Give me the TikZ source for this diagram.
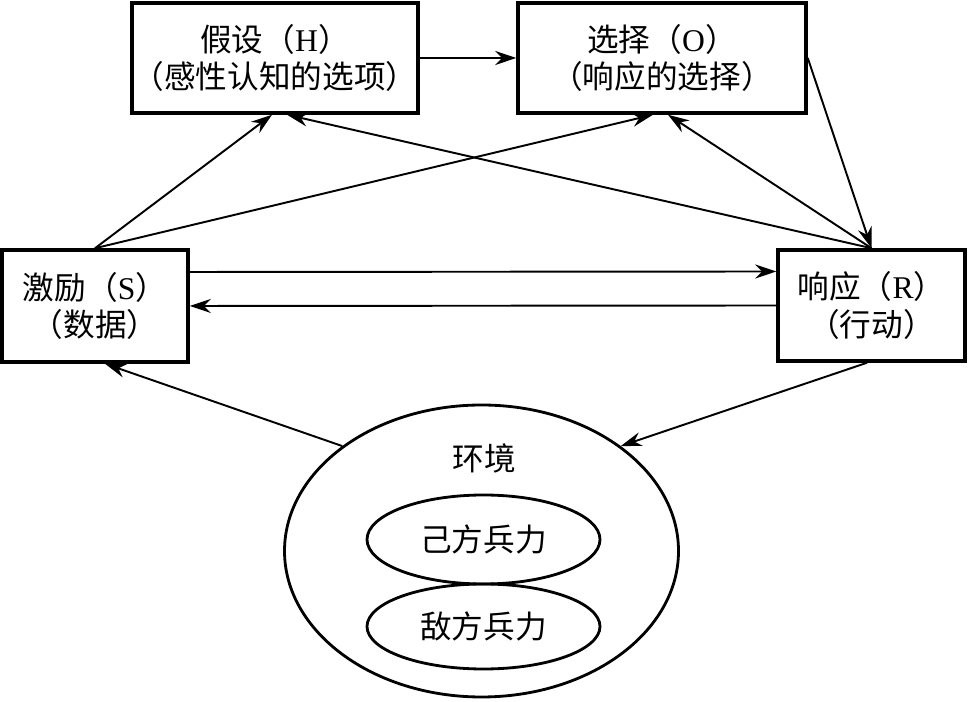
\documentclass[tikz,border=0pt]{standalone}
\usepackage{fontspec}
\usepackage{xcolor}
\usepackage{tikz}
\usetikzlibrary{arrows.meta,shapes.geometric}
\setmainfont{Liberation Serif}
\newfontfamily\cjk{Noto Sans CJK SC}

\tikzset{
  stagebox/.style={draw, line width=2pt, align=center, inner sep=0pt,
                   font=\cjk\fontsize{18}{21.5}\selectfont},
  envshape/.style={draw, ellipse, line width=1.6pt, inner sep=0pt},
  flow/.style={-{Stealth[length=12pt,width=8pt,inset=4pt]}, line width=1.1pt},
  tag/.style={font=\cjk\fontsize{18}{21.5}\selectfont}
}

\begin{document}
\begin{tikzpicture}
    \useasboundingbox (0,0) rectangle (19.38,14.04);

    % the four boxes
    \node[stagebox, minimum width=5.72cm, minimum height=2.2cm] (hyp) at (5.5,12.88)
      {假设（\textrm{H}）\\（感性认知的选项）};
    \node[stagebox, minimum width=5.76cm, minimum height=2.2cm] (opt) at (13.24,12.88)
      {选择（\textrm{O}）\\（响应的选择）};
    \node[stagebox, minimum width=3.72cm, minimum height=2.24cm] (stim) at (1.9,7.92)
      {激励（\textrm{S}）\\（数据）};
    \node[stagebox, minimum width=3.74cm, minimum height=2.22cm] (resp) at (17.43,7.93)
      {响应（\textrm{R}）\\（行动）};

    % environment
    \node[envshape, minimum width=7.88cm, minimum height=5.84cm] (env) at (9.63,3.02) {};
    \node[tag] (envlabel) at (9.68,4.88) {环境};
    \node[envshape, minimum width=4.66cm, minimum height=1.78cm, tag] (own) at (9.67,3.25) {己方兵力};
    \node[envshape, minimum width=4.66cm, minimum height=1.7cm, tag] (enemy) at (9.67,1.51) {敌方兵力};

    % connectors
    \draw[flow] (hyp.east) -- (opt.west);
    \draw[flow] (stim.north) -- ([xshift=-0.06cm]hyp.south);
    \draw[flow] (stim.north) -- ([xshift=-0.18cm]opt.south);
    \draw[flow] (resp.north) -- ([xshift=0.24cm]hyp.south);
    \draw[flow] (resp.north) -- ([xshift=0.12cm]opt.south);
    \draw[flow] (opt.east) -- (resp.north);
    \draw[flow] ([yshift=0.68cm]stim.east) -- ([yshift=0.68cm]resp.west);
    \draw[flow] (resp.west) -- (stim.east);
    \draw[flow] (env.143) -- ([xshift=0.2cm]stim.south);
    \draw[flow] ([xshift=-0.09cm]resp.south) -- (env.37);
\end{tikzpicture}
\end{document}
